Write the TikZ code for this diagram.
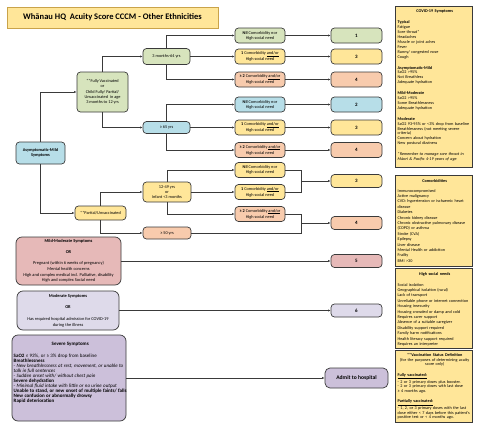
\documentclass[tikz,border=0pt]{standalone}
\usepackage{fontspec}
\setmainfont{Carlito}
\usetikzlibrary{arrows.meta}
\definecolor{lc}{HTML}{3A3A3A}
\definecolor{cgreen}{HTML}{D7E4BD}
\definecolor{cblue}{HTML}{B7DEE8}
\definecolor{cyellow}{HTML}{FFE699}
\definecolor{corange}{HTML}{F8CBAD}
\definecolor{cpink}{HTML}{E6B9B8}
\definecolor{clav}{HTML}{DEDAEA}
\definecolor{cvio}{HTML}{CCC0DA}
\definecolor{ctb}{HTML}{C9A34A}
\newcommand\fsz[2]{\fontsize{#1pt}{#2pt}\selectfont}
\newcommand\ctr[1]{\hfill#1\hfill\null}
\begin{document}
\begin{tikzpicture}[x=1pt,y=-1pt,
  box/.style={draw=lc, line width=0.7pt, rounded corners=3.5pt, align=center, inner sep=0.5pt, font=\fsz{4.3}{5}},
  cbox/.style={box, minimum width=50pt, minimum height=15pt},
  sbox/.style={box, minimum width=51pt, minimum height=15pt, font=\fsz{5}{6}\bfseries},
  abox/.style={box, minimum width=47pt},
  big/.style={box, rounded corners=6pt, font=\fsz{4.4}{5.6}},
  panel/.style={draw=lc, line width=0.7pt, fill=cyellow},
  ptext/.style={anchor=north west, inner sep=0pt, align=left, text width=74pt, font=\fsz{4.2}{4.9}},
  arr/.style={draw=lc, line width=0.7pt, -{Latex[length=2.6pt,width=2.2pt]}},
  ln/.style={draw=lc, line width=0.7pt},
]
\path[use as bounding box, fill=white] (0,0) rectangle (480,429);

% title
\node[draw=ctb, fill=cyellow, line width=0.8pt, minimum width=211pt, minimum height=21pt, inner sep=0pt, font=\fsz{8.5}{10}\bfseries] (title) at (112.5,17.5) {Whānau HQ\ \ Acuity Score CCCM - Other Ethnicities};

% entry and vaccination
\node[box, fill=cblue, minimum width=49pt, minimum height=22pt, font=\fsz{4.3}{5.2}\bfseries] (asym) at (40.5,153) {Asymptomatic-Mild\\Symptoms};
\node[box, fill=cgreen, minimum width=51pt, minimum height=40pt, font=\fsz{4.3}{5.4}] (v1) at (102.5,92) {**Fully Vaccinated\\or\\Child Fully/ Partial/\\Unvaccinated\ \ in age\\3 months to 12 yrs};
\node[box, fill=cyellow, minimum width=51pt, minimum height=14pt] (v2) at (100.5,213) {**Partial/Unvaccinated};

% age groups
\node[abox, fill=cgreen, minimum height=16pt] (a1) at (166.5,56.5) {3 months-64 yrs};
\node[abox, fill=cblue, minimum height=12pt] (a2) at (166.5,127.5) {≥ 65 yrs};
\node[abox, fill=cyellow, minimum width=48pt, minimum height=20pt] (a3) at (167,192) {12-49 yrs\\or\\Infant <3 months};
\node[abox, fill=corange, minimum width=48pt, minimum height=12pt] (a4) at (167,233) {≥ 50 yrs};

% comorbidity boxes
\node[cbox, fill=cgreen]  (c1) at (260,35.5)  {\textbf{Nil} Comorbidity nor\\High social need};
\node[cbox, fill=cyellow] (c2) at (260,56.5)  {\textbf{1} Comorbidity \underline{and/or}\\High social need};
\node[cbox, fill=corange] (c3) at (260,79.5)  {\textbf{≥ 2} Comorbidity \underline{and/or}\\High social need};
\node[cbox, fill=cblue]   (c4) at (260,104.5) {\textbf{Nil} Comorbidity nor\\High social need};
\node[cbox, fill=cyellow] (c5) at (260,127.5) {\textbf{1} Comorbidity \underline{and/or}\\High social need};
\node[cbox, fill=corange] (c6) at (260,150)   {\textbf{≥ 2} Comorbidity \underline{and/or}\\High social need};
\node[cbox, fill=cyellow] (c7) at (260,170)   {\textbf{Nil} Comorbidity nor\\High social need};
\node[cbox, fill=cyellow] (c8) at (260,192)   {\textbf{1} Comorbidity \underline{and/or}\\High social need};
\node[cbox, fill=corange] (c9) at (260,214)   {\textbf{≥ 2} Comorbidity \underline{and/or}\\High social need};

% scores
\node[sbox, fill=cgreen]  (s1) at (356.5,35.5)  {1};
\node[sbox, fill=cyellow] (s2) at (356.5,56.5)  {3};
\node[sbox, fill=corange] (s3) at (356.5,79.5)  {4};
\node[sbox, fill=cblue]   (s4) at (356.5,104.5) {2};
\node[sbox, fill=cyellow] (s5) at (356.5,127.5) {3};
\node[sbox, fill=corange] (s6) at (356.5,150)   {4};
\node[sbox, fill=cyellow, minimum height=13pt] (s7) at (356.5,181) {3};
\node[sbox, fill=corange, minimum height=13pt] (s8) at (356.5,223) {4};
\node[sbox, fill=cpink, minimum height=13pt]   (s9) at (356.5,261) {5};
\node[sbox, fill=clav, minimum height=13pt]    (s10) at (356.5,310.5) {6};
\node[box, fill=cvio, rounded corners=5pt, minimum width=63pt, minimum height=20pt, font=\fsz{5.6}{6.5}\bfseries] (admit) at (356.5,378) {Admit to hospital};

% left symptom boxes
\node[big, fill=cpink, minimum width=105pt, minimum height=48pt] (mm) at (68.5,261) {\textbf{Mild-Moderate Symptoms}\\[5.5pt]\textbf{OR}\\[5.5pt]Pregnant (within 6 weeks of pregnancy)\\Mental health concerns\\High and complex medical incl. Palliative, disability\\High and complex Social need};
\node[big, fill=clav, minimum width=102pt, minimum height=39pt] (mod) at (68,310.5) {\textbf{Moderate Symptoms}\\[6pt]\textbf{OR}\\[6pt]Has required hospital admission for COVID-19\\during the illness};
\node[big, fill=cvio, minimum width=114pt, minimum height=86pt] (sev) at (69,378) {};
\node[anchor=north west, inner sep=0pt, align=left, text width=113pt, font=\fsz{4.05}{4.9}] (sevt) at (13.5,342) {\ctr{\fsz{5}{5}\textbf{Severe Symptoms}}\\[7pt]
\textbf{SaO2} ≤ 93\%, or ≥ 3\% drop from baseline\\
\textbf{Breathlessness}\\
\textit{- New breathlessness at rest, movement, or unable to}\\
\textit{talk in full sentences}\\
\textit{- Sudden onset with/ without chest pain}\\
\textbf{Severe dehydration}\\
\textit{- Minimal fluid intake with little or no urine output}\\
\textbf{Unable to stand, or new onset of multiple faints/ falls}\\
\textbf{New confusion or abnormally drowsy}\\
\textbf{Rapid deterioration}};

% connectors
\draw[arr] (asym.north) |- (v1.west);
\draw[arr] (asym.south) |- (v2.west);
\draw[arr] (v1.north) |- (a1.west);
\draw[arr] (v1.south) |- (a2.west);
\draw[arr] (v2.north) |- (a3.west);
\draw[arr] (v2.south) |- (a4.west);
\draw[arr] (a1.north) |- (c1.west);
\draw[arr] (a1.east) -- (c2.west);
\draw[arr] (a1.south) |- (c3.west);
\draw[arr] (a2.north) |- (c4.west);
\draw[arr] (a2.east) -- (c5.west);
\draw[arr] (a2.south) |- (c6.west);
\draw[arr] (a3.north) |- (c7.west);
\draw[arr] (a3.east) -- (c8.west);
\draw[arr] (a3.south) |- (c9.west);
\draw[arr] (c1.east) -- (s1.west);
\draw[arr] (c2.east) -- (s2.west);
\draw[arr] (c3.east) -- (s3.west);
\draw[arr] (c4.east) -- (s4.west);
\draw[arr] (c5.east) -- (s5.west);
\draw[arr] (c6.east) -- (s6.west);
\coordinate (m1) at (301,181);
\coordinate (m2) at (301,223);
\draw[ln] (c7.east) -| (m1);
\draw[ln] (c8.east) -| (m1);
\draw[arr] (m1) -- (s7.west);
\draw[ln] (c9.east) -| (m2);
\draw[ln] (a4.east) -| (m2);
\draw[arr] (m2) -- (s8.west);
\draw[arr, line width=0.9pt] (mm.east) -- (s9.west);
\draw[arr, line width=0.9pt] (mod.east) -- (s10.west);
\draw[arr, line width=0.9pt] (sev.east) -- (admit.west);

% right panels
\draw[panel] (395,6) rectangle (472,167);
\node[ptext] (covid) at (397.5,10) {\ctr{\textbf{COVID-19 Symptoms}}\\[6pt]
\textbf{Typical}\\Fatigue\\Sore throat*\\Headaches\\Muscle or joint aches\\Fever\\Runny/ congested nose\\Cough\\[6pt]
\textbf{Asymptomatic-Mild}\\SaO2 >95\%\\Not Breathless\\Adequate hydration\\[6pt]
\textbf{Mild-Moderate}\\SaO2 >95\%\\Some Breathlessness\\Adequate hydration\\[6pt]
\textbf{Moderate}\\SaO2 93-95\% or <3\% drop from baseline\\Breathlessness (not meeting severe\\criteria)\\Concern about hydration\\New postural dizziness\\[6pt]
\textit{*Remember to manage sore throat in}\\\textit{Māori \& Pacific 4-19 years of age}};

\draw[panel] (395,175) rectangle (472,266);
\node[ptext, font=\fsz{4.2}{5.4}] (comor) at (397.5,179.5) {\ctr{\textbf{Comorbidities}}\\[4pt]
Immunocompromised\\Active malignancy\\CVD: hypertension or ischaemic heart\\disease\\Diabetes\\Chronic kidney disease\\Chronic obstructive pulmonary disease\\(COPD) or asthma\\Stroke (CVA)\\Epilepsy\\Liver disease\\Mental Health or addiction\\Frailty\\BMI >30};

\draw[panel] (395,268) rectangle (472,348);
\node[ptext, font=\fsz{4.2}{5.4}] (social) at (397.5,272.5) {\ctr{\textbf{High social needs}}\\[5pt]
Social isolation\\Geographical isolation (rural)\\Lack of transport\\Unreliable phone or internet connection\\Housing insecurity\\Housing crowded or damp and cold\\Requires carer support\\Absence of a suitable caregiver\\Disability support required\\Family harm notifications\\Health literacy support required\\Requires an interpreter};

\draw[panel] (395,350) rectangle (472,422);
\node[ptext, font=\fsz{4.2}{4.6}] (vacc) at (397.5,353.5) {\ctr{\textbf{**Vaccination Status Definition}}\\
\ctr{(for the purposes of determining acuity}\\\ctr{score only)}\\[6pt]
\textbf{\underline{Fully vaccinated:}}\\
- 2 or 3 primary doses plus booster.\\
- 2 or 3 primary doses with last dose\\
≥ 4 months ago.\\[6pt]
\textbf{\underline{Partially vaccinated:}}\\
- 1, 2, or 3 primary doses with the last\\
dose either < 7 days before this patient's\\
positive test or < 4 months ago.};
\end{tikzpicture}
\end{document}
